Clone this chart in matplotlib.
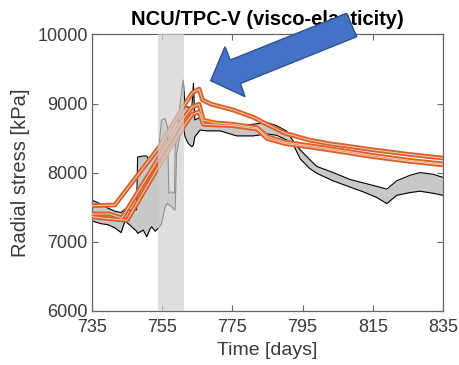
import matplotlib.pyplot as plt
from matplotlib.patches import Polygon

plt.rcParams['font.family'] = ['Liberation Sans', 'DejaVu Sans']

# measured stress envelope (grey band)
days_meas = [735.0, 737.5, 739.5, 741.5, 743.3, 744.4, 746.3, 747.7, 748.0, 749.6, 750.6,
             751.5, 752.0, 753.0, 754.0, 754.8, 755.8, 756.5, 756.9, 757.7, 758.5, 758.7,
             759.1, 760.0, 761.0, 761.5, 762.4, 763.4, 763.9, 764.3, 765.8, 767.7, 771.5,
             776.2, 780.9, 784.8, 787.6, 790.5, 792.3, 794.3, 797.0, 799.0, 803.7, 808.5,
             812.3, 816.1, 819.0, 821.8, 825.6, 828.4, 832.2, 835.0]
meas_upper = [7600, 7545, 7485, 7440, 7420, 7470, 7450, 7460, 8225, 8240, 8240,
              8160, 8200, 8260, 8330, 8760, 8785, 8665, 7700, 7720, 7700, 8350,
              8500, 8950, 9340, 8954, 8950, 8906, 9292, 8761, 8800, 8749, 8720,
              8676, 8700, 8724, 8680, 8600, 8458, 8330, 8190, 8090, 8000, 7900,
              7850, 7800, 7760, 7880, 7960, 8000, 7975, 7930]
meas_lower = [7300, 7260, 7245, 7200, 7130, 7300, 7215, 7150, 7119, 7167, 7070,
              7180, 7215, 7150, 7200, 7260, 7500, 7554, 7530, 7504, 7457, 7460,
              8278, 8519, 8664, 8519, 8423, 8374, 8400, 8519, 8616, 8604, 8604,
              8531, 8531, 8560, 8540, 8470, 8410, 8200, 8060, 7990, 7880, 7790,
              7720, 7640, 7550, 7670, 7710, 7730, 7700, 7670]

# simulated curves (visco-elastic model)
days_a = [735, 741.5, 754.4, 761, 763.5, 765.5, 766.5, 769, 775, 781, 784, 790, 797, 803, 815, 825, 835]
sim_a = [7520, 7530, 8385, 8950, 9150, 9210, 9050, 8990, 8910, 8800, 8720, 8570, 8470, 8415, 8330, 8265, 8210]
days_b = [735, 740, 743.5, 754.4, 761, 763.5, 765.5, 766.7, 770, 775, 782, 785, 790, 797, 803, 815, 825, 835]
sim_b = [7400, 7400, 7340, 8240, 8780, 8950, 8990, 8760, 8720, 8700, 8650, 8520, 8440, 8390, 8345, 8250, 8180, 8125]
days_c = [735, 740, 745, 754.4, 761, 763.5, 765.5, 766.7, 770, 775, 782, 785, 790, 797, 803, 815, 825, 835]
sim_c = [7360, 7330, 7310, 8124, 8660, 8840, 8880, 8700, 8690, 8680, 8630, 8490, 8420, 8370, 8325, 8230, 8165, 8110]

event_start, event_end = 753.8, 761.2
xticks = [735, 755, 775, 795, 815, 835]
yticks = [6000, 7000, 8000, 9000, 10000]

fig = plt.figure(figsize=(4.6, 3.65), dpi=100)
ax = fig.add_axes([0.2, 0.149, 0.763, 0.7565])

ax.fill_between(days_meas, meas_lower, meas_upper, color='#c8c8c8', lw=0, zorder=1)
ax.plot(days_meas, meas_upper, color='black', lw=0.8, zorder=2)
ax.plot(days_meas, meas_lower, color='black', lw=0.8, zorder=2)

orange = '#D95F2B'
for d, v in [(days_a, sim_a), (days_b, sim_b), (days_c, sim_c)]:
    ax.plot(d, v, color=orange, lw=3.4, zorder=3)
    ax.plot(d, v, color='#f3c4a8', lw=0.8, zorder=4)

ax.axvspan(event_start, event_end, color='#d0d0d0', alpha=0.7, lw=0, zorder=5)

ax.set_xlim(735, 835)
ax.set_ylim(6000, 10000)
ax.set_xticks(xticks)
ax.set_yticks(yticks)
ax.tick_params(direction='in', length=4, width=0.8, top=True, right=True,
               labelsize=13, colors='#666666', labelcolor='#3a3a3a', pad=3)
ax.tick_params(axis='x', pad=6)
for s in ax.spines.values():
    s.set_color('#666666')
    s.set_linewidth(0.9)

ax.set_xlabel('Time [days]', fontsize=14, color='#3a3a3a', labelpad=4)
ax.set_ylabel('Radial stress [kPa]', fontsize=14.5, color='#3a3a3a', labelpad=5)
ax.set_title('NCU/TPC-V (visco-elasticity)', fontsize=14.5, fontweight='bold', pad=7)

# blue arrow pointing to the peak
W, H = 460, 365
arrow_px = [(210.7, 80.7), (225, 46.7), (230.3, 60), (346.7, 13.3),
            (356.7, 36.7), (240.5, 83.5), (245, 96.7)]
arrow = Polygon([(x / W, 1 - y / H) for x, y in arrow_px], closed=True,
                transform=fig.transFigure, facecolor='#4472C4', edgecolor='#2F528F',
                lw=1.0, zorder=10)
fig.add_artist(arrow)

fig.savefig('out.png', dpi=100)
